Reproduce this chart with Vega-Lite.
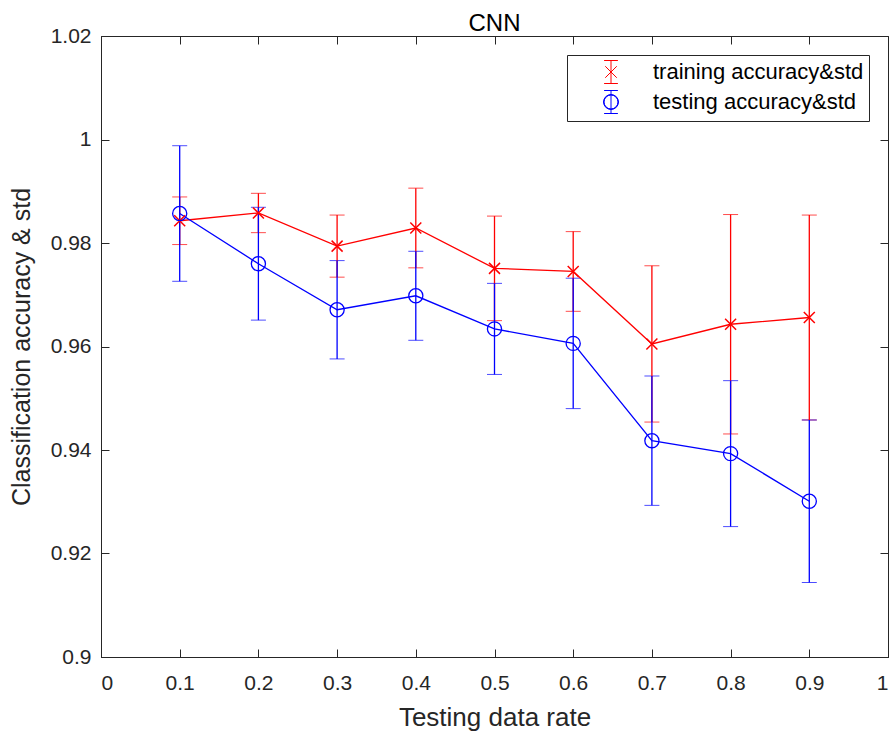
{
  "$schema": "https://vega.github.io/schema/vega-lite/v6.json",
  "width": 787,
  "height": 621,
  "autosize": {"type": "none"},
  "padding": {"left": 101, "top": 36, "right": 1, "bottom": 76},
  "background": "white",
  "title": {"text": "CNN", "fontSize": 24, "font": "Liberation Sans", "fontWeight": "normal", "color": "#000000", "offset": -11},
  "config": {
    "view": {"stroke": "#262626", "strokeWidth": 1},
    "font": "Liberation Sans",
    "axis": {"grid": false, "domainColor": "#262626", "tickColor": "#262626", "labelColor": "#262626", "titleColor": "#262626", "labelFont": "Liberation Sans", "titleFont": "Liberation Sans", "labelFontSize": 21, "titleFontSize": 25, "titleFontWeight": "normal", "tickSize": -8, "tickWidth": 1, "domainWidth": 1}
  },
  "data": {"values": [
    {"rate": 0.1, "series": "training accuracy&std", "mean": 0.9843, "std": 0.0046},
    {"rate": 0.2, "series": "training accuracy&std", "mean": 0.9858, "std": 0.0038},
    {"rate": 0.3, "series": "training accuracy&std", "mean": 0.9794, "std": 0.0060},
    {"rate": 0.4, "series": "training accuracy&std", "mean": 0.9829, "std": 0.0077},
    {"rate": 0.5, "series": "training accuracy&std", "mean": 0.9751, "std": 0.0101},
    {"rate": 0.6, "series": "training accuracy&std", "mean": 0.9745, "std": 0.0077},
    {"rate": 0.7, "series": "training accuracy&std", "mean": 0.9605, "std": 0.0151},
    {"rate": 0.8, "series": "training accuracy&std", "mean": 0.9643, "std": 0.0212},
    {"rate": 0.9, "series": "training accuracy&std", "mean": 0.9656, "std": 0.0198},
    {"rate": 0.1, "series": "testing accuracy&std", "mean": 0.9857, "std": 0.0131},
    {"rate": 0.2, "series": "testing accuracy&std", "mean": 0.9760, "std": 0.0109},
    {"rate": 0.3, "series": "testing accuracy&std", "mean": 0.9671, "std": 0.0095},
    {"rate": 0.4, "series": "testing accuracy&std", "mean": 0.9698, "std": 0.0086},
    {"rate": 0.5, "series": "testing accuracy&std", "mean": 0.9634, "std": 0.0088},
    {"rate": 0.6, "series": "testing accuracy&std", "mean": 0.9606, "std": 0.0126},
    {"rate": 0.7, "series": "testing accuracy&std", "mean": 0.9418, "std": 0.0125},
    {"rate": 0.8, "series": "testing accuracy&std", "mean": 0.9393, "std": 0.0141},
    {"rate": 0.9, "series": "testing accuracy&std", "mean": 0.9301, "std": 0.0157}
  ]},
  "layer": [
    {
      "mark": {"type": "point", "opacity": 0, "filled": false},
      "encoding": {
        "x": {"field": "rate", "type": "quantitative", "scale": {"domain": [0, 1], "nice": false, "zero": false},
              "axis": {"orient": "bottom", "values": [0, 0.1, 0.2, 0.3, 0.4, 0.5, 0.6, 0.7, 0.8, 0.9, 1], "format": ".1~f", "labelPadding": 23, "title": "Testing data rate", "titlePadding": 11, "titleFontSize": 26, "domain": true}},
        "y": {"field": "mean", "type": "quantitative", "scale": {"domain": [0.9, 1.02], "nice": false, "zero": false},
              "axis": {"orient": "left", "values": [0.9, 0.92, 0.94, 0.96, 0.98, 1, 1.02], "format": ".2~f", "labelPadding": 18, "title": "Classification accuracy & std", "titlePadding": 16, "domain": true}},
        "color": {"field": "series", "type": "nominal",
                  "scale": {"domain": ["training accuracy&std", "testing accuracy&std"], "range": ["#FF0000", "#0000FF"]},
                  "legend": {"title": null, "orient": "none", "legendX": 466, "legendY": 19, "strokeColor": "#262626", "fillColor": "white", "padding": 5, "cornerRadius": 0, "labelFontSize": 22, "labelFont": "Liberation Sans", "labelColor": "#000000", "symbolSize": 529, "symbolStrokeWidth": 1, "symbolOpacity": 1, "symbolFillColor": "transparent", "symbolOffset": 27, "labelOffset": 30, "rowPadding": 2, "labelLimit": 400}},
        "shape": {"field": "series", "type": "nominal",
                  "scale": {"domain": ["training accuracy&std", "testing accuracy&std"],
                            "range": ["M0,-1L0,1M-0.6,-1L0.6,-1M-0.6,1L0.6,1M-0.5,-0.5L0.5,0.5M-0.5,0.5L0.5,-0.5",
                                      "M0,-1L0,1M-0.6,-1L0.6,-1M-0.6,1L0.6,1M0.65,0L0.6005,0.2487L0.4596,0.4596L0.2487,0.6005L0,0.65L-0.2487,0.6005L-0.4596,0.4596L-0.6005,0.2487L-0.65,0L-0.6005,-0.2487L-0.4596,-0.4596L-0.2487,-0.6005L0,-0.65L0.2487,-0.6005L0.4596,-0.4596L0.6005,-0.2487ZM0.61,0L0.5636,-0.2334L0.4313,-0.4313L0.2334,-0.5636L0,-0.61L-0.2334,-0.5636L-0.4313,-0.4313L-0.5636,-0.2334L-0.61,0L-0.5636,0.2334L-0.4313,0.4313L-0.2334,0.5636L0,0.61L0.2334,0.5636L0.4313,0.4313L0.5636,0.2334Z"]},
                  "legend": {"title": null, "orient": "none", "legendX": 466, "legendY": 19, "strokeColor": "#262626", "fillColor": "white", "padding": 5, "cornerRadius": 0, "labelFontSize": 22, "labelFont": "Liberation Sans", "labelColor": "#000000", "symbolSize": 529, "symbolStrokeWidth": 1, "symbolOpacity": 1, "symbolFillColor": "transparent", "symbolOffset": 27, "labelOffset": 30, "rowPadding": 2, "labelLimit": 400}}
      }
    },
    {
      "mark": {"type": "point", "opacity": 0},
      "encoding": {
        "x": {"field": "rate", "type": "quantitative", "axis": {"orient": "top", "values": [0, 0.1, 0.2, 0.3, 0.4, 0.5, 0.6, 0.7, 0.8, 0.9, 1], "labels": false, "domain": false, "title": null}},
        "y": {"field": "mean", "type": "quantitative", "axis": {"orient": "right", "values": [0.9, 0.92, 0.94, 0.96, 0.98, 1, 1.02], "labels": false, "domain": false, "title": null}}
      }
    },
    {
      "mark": {"type": "errorbar", "ticks": {"size": 15}, "rule": {"strokeWidth": 1.3}},
      "encoding": {
        "x": {"field": "rate", "type": "quantitative", "axis": null},
        "y": {"field": "mean", "type": "quantitative", "axis": null},
        "yError": {"field": "std"},
        "color": {"field": "series", "type": "nominal", "legend": null}
      }
    },
    {
      "mark": {"type": "line", "strokeWidth": 1.3},
      "encoding": {
        "x": {"field": "rate", "type": "quantitative", "axis": null},
        "y": {"field": "mean", "type": "quantitative", "axis": null},
        "color": {"field": "series", "type": "nominal", "legend": null}
      }
    },
    {
      "transform": [{"filter": "datum.series == 'training accuracy&std'"}],
      "mark": {"type": "point", "shape": "M-1,-1L1,1M-1,1L1,-1", "size": 121, "strokeWidth": 1.5, "filled": false, "opacity": 1},
      "encoding": {
        "x": {"field": "rate", "type": "quantitative", "axis": null},
        "y": {"field": "mean", "type": "quantitative", "axis": null},
        "color": {"field": "series", "type": "nominal", "legend": null}
      }
    },
    {
      "transform": [{"filter": "datum.series == 'testing accuracy&std'"}],
      "mark": {"type": "point", "shape": "circle", "size": 200, "strokeWidth": 1.3, "filled": false, "opacity": 1},
      "encoding": {
        "x": {"field": "rate", "type": "quantitative", "axis": null},
        "y": {"field": "mean", "type": "quantitative", "axis": null},
        "color": {"field": "series", "type": "nominal", "legend": null}
      }
    }
  ],
  "resolve": {"axis": {"x": "independent", "y": "independent"}}
}
